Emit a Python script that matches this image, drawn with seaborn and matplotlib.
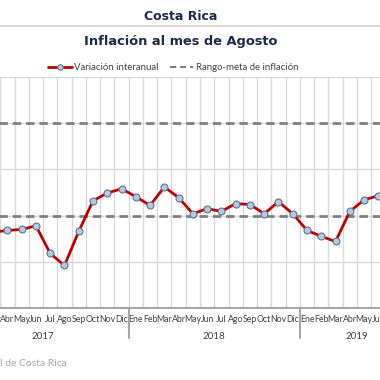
import numpy as np
import pandas as pd
import seaborn as sns
import matplotlib.pyplot as plt
import matplotlib.transforms as mtransforms

months = ["Ene", "Feb", "Mar", "Abr", "May", "Jun", "Jul", "Ago", "Sep", "Oct", "Nov", "Dic"]
years = ["2017", "2018", "2019"]
months_per_year = [12, 12, 8]

inflacion = [
    1.13, 1.37, 1.64, 1.68, 1.70, 1.78, 1.18, 0.92, 1.66, 2.32, 2.49, 2.58,
    2.41, 2.22, 2.62, 2.39, 2.04, 2.15, 2.09, 2.26, 2.24, 2.04, 2.30, 2.04,
    1.68, 1.55, 1.44, 2.09, 2.34, 2.43, 2.47, 2.76,
]
meta_inferior = 2
meta_superior = 4

labels = [m for n in months_per_year for m in months[:n]]
df = pd.DataFrame({"x": np.arange(len(inflacion)), "valor": inflacion})

sns.set_style("white")
plt.rcParams["font.family"] = ["Lato", "DejaVu Sans"]

fig = plt.figure(figsize=(3.8, 3.8), dpi=100)
W = H = 380
left, right, top, bottom = -42.5, 414, 77, 308
ax = fig.add_axes([left / W, 1 - bottom / H, (right - left) / W, (bottom - top) / H])

ax.set_xlim(-0.5, len(inflacion) - 0.5)
ax.set_ylim(0, 5)
ax.set_yticks([1, 2, 3, 4, 5])
ax.set_yticklabels([])
ax.set_xticks(np.arange(-0.5, len(inflacion), 1), minor=True)
ax.grid(which="minor", axis="x", color="#d9d9d9", lw=1)
ax.grid(which="major", axis="y", color="#d9d9d9", lw=1)
ax.tick_params(which="both", length=0)
ax.tick_params(axis="x", which="major", pad=5, labelsize=6.3, labelcolor="#404040")
ax.set_xticks(df["x"])
ax.set_xticklabels(labels)
for s in ["left", "right", "top"]:
    ax.spines[s].set_visible(False)
ax.spines["bottom"].set_color("#a6a6a6")
ax.spines["bottom"].set_linewidth(1.5)

for v in [meta_inferior, meta_superior]:
    ax.axhline(v, color="#7f7f7f", lw=2, ls=(0, (3, 1.8)), zorder=2)

sns.lineplot(data=df, x="x", y="valor", ax=ax, color="#c00000", lw=2,
             marker="o", markersize=5, markerfacecolor="#b9c8dc",
             markeredgecolor="#5a7394", markeredgewidth=0.8, zorder=3)
ax.set_xlabel("")
ax.set_ylabel("")

trans = mtransforms.blended_transform_factory(ax.transData, ax.transAxes)
start = -0.5
for y, n in zip(years, months_per_year):
    ax.text(start + n / 2, -0.125, y, transform=trans, ha="center", va="center",
            fontsize=7, color="#404040")
    ax.plot([start, start], [0, -0.13], transform=trans, color="#a6a6a6",
            lw=1.5, clip_on=False)
    start += n
ax.plot([start, start], [0, -0.13], transform=trans, color="#a6a6a6",
        lw=1.5, clip_on=False)

fig.text(181 / W, 1 - 17 / H, "Costa Rica", ha="center", va="center",
         fontsize=9, fontweight="bold", color="#1c2b48", family="DejaVu Sans")
fig.add_artist(plt.Line2D([0, 1], [1 - 26 / H] * 2, color="#d9d9d9", lw=1.5))
fig.text(181 / W, 1 - 42 / H, "Inflación al mes de Agosto", ha="center",
         va="center", fontsize=9.4, fontweight="bold", color="#1c2b48",
         family="DejaVu Sans")

ly = 1 - 67 / H
fig.add_artist(plt.Line2D([48 / W, 72 / W], [ly, ly], color="#c00000", lw=2))
fig.add_artist(plt.Line2D([60 / W], [ly], marker="o", markersize=4,
                          markerfacecolor="#b9c8dc", markeredgecolor="#5a7394",
                          markeredgewidth=0.8))
fig.text(74 / W, ly, "Variación interanual", va="center", fontsize=6.9, color="#404040")
fig.add_artist(plt.Line2D([170 / W, 193 / W], [ly, ly], color="#7f7f7f", lw=1.5,
                          ls=(0, (3, 1.8))))
fig.text(196 / W, ly, "Rango-meta de inflación", va="center", fontsize=6.9,
         color="#404040")

fig.text(67 / W, 1 - 363 / H, "Fuente: Banco Central de Costa Rica", ha="right",
         va="center", fontsize=7.5, color="#a6a6a6")

fig.savefig("out.png", dpi=100)
